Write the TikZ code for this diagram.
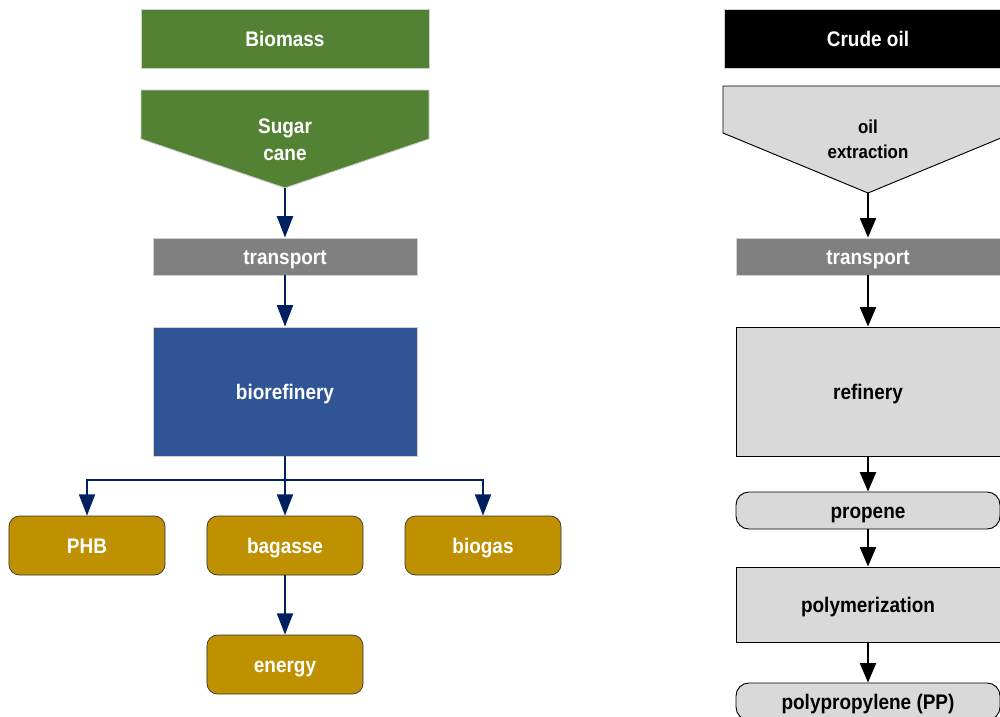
\documentclass[tikz,border=0pt]{standalone}
\usepackage{fontspec}
\setmainfont{Liberation Sans}[FakeStretch=0.9]
\usetikzlibrary{positioning,arrows.meta}
\usepackage{xcolor}
\definecolor{biogreen}{HTML}{548235}
\definecolor{bioblue}{HTML}{2F5597}
\definecolor{biogold}{HTML}{BF9000}
\definecolor{transgray}{HTML}{808080}
\definecolor{oilgray}{HTML}{D9D9D9}
\definecolor{edgegray}{HTML}{D0D0D0}
\definecolor{arrownavy}{HTML}{002060}

\tikzset{
  txt/.style={font=\fontsize{18pt}{23pt}\selectfont\bfseries,align=center,inner sep=0pt},
  oneline/.style={txt,text height=14pt,text depth=0pt},
  head/.style={oneline,minimum width=8.64cm,minimum height=1.77cm,draw=edgegray,line width=0.8pt},
  stage/.style={oneline,minimum width=7.92cm,draw=edgegray,line width=0.8pt},
  product/.style={oneline,text=white,fill=biogold,draw=black!80,line width=0.6pt,rounded corners=9pt,minimum width=4.68cm,minimum height=1.77cm},
  oilbox/.style={oneline,fill=oilgray,draw=black,line width=0.8pt,minimum width=7.92cm},
  bioflow/.style={draw=arrownavy,line width=1.6pt,-{Triangle[length=0.64cm,width=0.48cm]}},
  oilflow/.style={draw=black,line width=1.6pt,-{Triangle[length=0.58cm,width=0.48cm]}}
}

\begin{document}
\begin{tikzpicture}[x=0.03cm,y=-0.03cm]
    \clip (0,0) rectangle (1000,716);

    % Biomass chain
    \node[head,fill=biogreen,text=white] (biomass) at (285,38.5) {Biomass};
    \fill[biogreen,draw=edgegray,line width=0.8pt] (141,90) -- (429,90) -- (429,139) -- (285,188) -- (141,139) -- cycle;
    \node[txt,text=white] (cane) at (285,140) {Sugar\\cane};
    \coordinate (canetip) at (285,188);
    \node[stage,fill=transgray,text=white,minimum height=1.11cm] (biotrans) at (285,256.5) {transport};
    \node[stage,fill=bioblue,text=white,minimum height=3.87cm] (bioref) at (285,391.5) {biorefinery};

    % Products
    \node[product] (phb) at (87,545.5) {PHB};
    \node[product] (bagasse) at (285,545.5) {bagasse};
    \node[product] (biogas) at (483,545.5) {biogas};
    \node[product] (energy) at (285,664.5) {energy};
    \coordinate (fork) at (285,480);

    \draw[bioflow] (canetip) -- (biotrans.north);
    \draw[bioflow] (biotrans.south) -- (bioref.north);
    \draw[bioflow] (bioref.south) -- (bagasse.north);
    \draw[bioflow] (fork) -| (phb.north);
    \draw[bioflow] (fork) -| (biogas.north);
    \draw[bioflow] (bagasse.south) -- (energy.north);

    % Crude oil chain
    \node[head,fill=black,text=white] (crude) at (868,38.5) {Crude oil};
    \fill[oilgray,draw=black,line width=0.8pt] (723,86) -- (1013,86) -- (1013,133) -- (868,193) -- (723,133) -- cycle;
    \node[txt,font=\fontsize{16pt}{21pt}\selectfont\bfseries] (extract) at (868,139) {oil\\extraction};
    \coordinate (extracttip) at (868,193);
    \node[stage,fill=transgray,text=white,minimum height=1.11cm] (oiltrans) at (868,256.5) {transport};
    \node[oilbox,minimum height=3.87cm] (refinery) at (868,391.5) {refinery};
    \node[oilbox,minimum height=1.11cm,rounded corners=11pt] (propene) at (868,510.5) {propene};
    \node[oilbox,minimum height=2.25cm] (polymer) at (868,604.5) {polymerization};
    \node[oilbox,minimum height=1.11cm,rounded corners=11pt] (pp) at (868,701.5) {polypropylene (PP)};

    \draw[oilflow] (extracttip) -- (oiltrans.north);
    \draw[oilflow] (oiltrans.south) -- (refinery.north);
    \draw[oilflow] (refinery.south) -- (propene.north);
    \draw[oilflow] (propene.south) -- (polymer.north);
    \draw[oilflow] (polymer.south) -- (pp.north);
\end{tikzpicture}
\end{document}
